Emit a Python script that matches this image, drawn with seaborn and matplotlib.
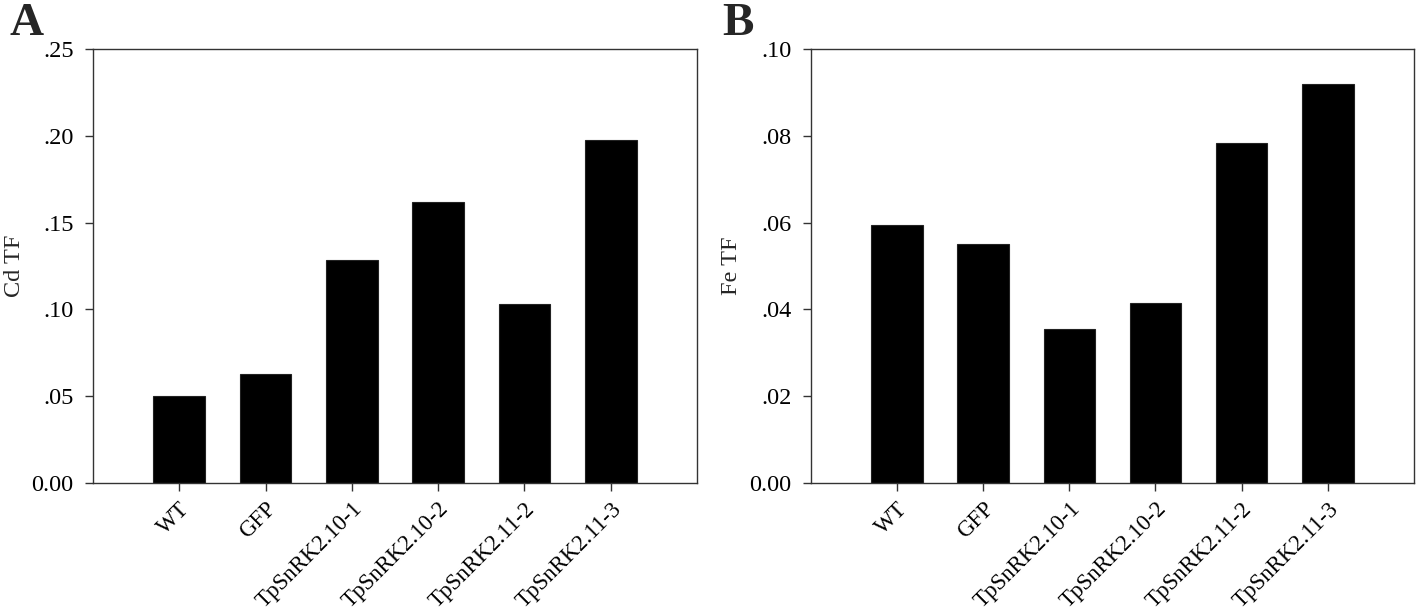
import pandas as pd
import matplotlib
matplotlib.use('Agg')
import matplotlib.pyplot as plt
import seaborn as sns
from matplotlib.ticker import FuncFormatter

# values
lines = ['WT', 'GFP', 'TpSnRK2.10-1', 'TpSnRK2.10-2', 'TpSnRK2.11-2', 'TpSnRK2.11-3']
cd_tf = [0.050, 0.0628, 0.1285, 0.1619, 0.1031, 0.1976]
fe_tf = [0.0594, 0.0551, 0.0355, 0.0415, 0.0783, 0.0919]
cd_ticks = [0.0, 0.05, 0.10, 0.15, 0.20, 0.25]
fe_ticks = [0.0, 0.02, 0.04, 0.06, 0.08, 0.10]

df = pd.DataFrame({'line': lines, 'Cd TF': cd_tf, 'Fe TF': fe_tf})

sns.set_style('ticks')
plt.rcParams['font.family'] = 'serif'
plt.rcParams['font.serif'] = ['Liberation Serif', 'Times New Roman', 'DejaVu Serif']
plt.rcParams['axes.linewidth'] = 1.0
plt.rcParams['axes.edgecolor'] = '#333333'


def dot_fmt(v, pos):
    if abs(v) < 1e-9:
        return '0.00'
    return f'{v:.2f}'.lstrip('0')


fig = plt.figure(figsize=(14.18, 6.10), dpi=100)
ax_a = fig.add_axes([0.0656, 0.2082, 0.4259, 0.7115])
ax_b = fig.add_axes([0.5719, 0.2082, 0.4252, 0.7115])

panels = [(ax_a, 'Cd TF', cd_ticks, 'A', 0.007),
          (ax_b, 'Fe TF', fe_ticks, 'B', 0.509)]

for ax, col, ticks, letter, lx in panels:
    sns.barplot(data=df, x='line', y=col, color='black', width=0.6,
                edgecolor='#222222', linewidth=0.8, saturation=1, ax=ax)
    ax.set_xlim(-1, 6)
    ax.set_ylim(ticks[0], ticks[-1])
    ax.set_yticks(ticks)
    ax.yaxis.set_major_formatter(FuncFormatter(dot_fmt))
    ax.set_xlabel('')
    ax.set_ylabel(col, fontsize=17.5, labelpad=5)
    ax.tick_params(axis='both', direction='out', length=6, width=1,
                   labelsize=17.5, color='#333333', labelcolor='black')
    ax.tick_params(axis='x', pad=5, labelsize=16.5)
    ax.tick_params(axis='y', pad=8)
    plt.setp(ax.get_xticklabels(), rotation=45, ha='right',
             rotation_mode='anchor')
    for s in ax.spines.values():
        s.set_visible(True)
    fig.text(lx, 0.942, letter, fontsize=34, fontweight='bold',
             ha='left', va='baseline')

fig.savefig('out.png', dpi=100)
